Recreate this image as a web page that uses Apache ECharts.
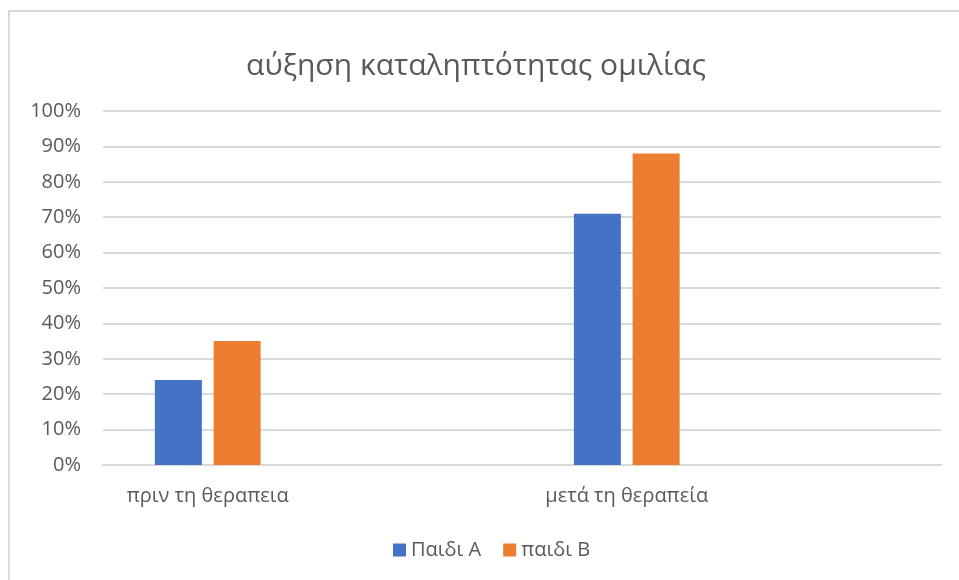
<!DOCTYPE html>
<html>
<head>
<meta charset="utf-8">
<script src="https://cdn.jsdelivr.net/npm/echarts@6/dist/echarts.min.js"></script>
<style>
html,body{margin:0;padding:0;background:#fff;overflow:hidden;}
#frame{position:absolute;left:8px;top:10px;width:1000px;height:620px;border-left:2px solid #d9d9d9;border-top:2px solid #d9d9d9;}
#chart{position:absolute;left:0;top:0;width:959px;height:580px;}
</style>
</head>
<body>
<div id="frame"></div>
<div id="chart"></div>
<script>
var titleText = 'αύξηση καταληπτότητας ομιλίας';
var categories = ['πριν τη θεραπεια', '', 'μετά τη θεραπεία', ''];
var seriesNames = ['Παιδι A', 'παιδι B'];
var childA = [0.24, null, 0.71, null];
var childB = [0.35, null, 0.88, null];
var colors = ['#4472C4', '#ED7D31'];
var FONT = 'Open Sans';

var chart = echarts.init(document.getElementById('chart'), null, {renderer: 'canvas'});
chart.setOption({
  animation: false,
  backgroundColor: 'transparent',
  title: {
    text: titleText,
    left: 471,
    textAlign: 'center',
    top: 46,
    textStyle: {fontFamily: FONT, fontSize: 30, fontWeight: 'normal', color: '#595959'}
  },
  legend: {
    data: seriesNames,
    bottom: 15,
    left: 388,
    itemWidth: 13,
    itemHeight: 13,
    itemGap: 22,
    icon: 'rect',
    textStyle: {fontFamily: FONT, fontSize: 20, color: '#595959'}
  },
  grid: {left: 103, right: 18, top: 111, bottom: 115, containLabel: false},
  xAxis: {
    type: 'category',
    data: categories,
    axisLine: {lineStyle: {color: '#d9d9d9', width: 2}},
    axisTick: {show: false},
    axisLabel: {interval: 0, margin: 21, fontFamily: FONT, fontSize: 20, color: '#595959'}
  },
  yAxis: {
    type: 'value',
    min: 0, max: 1, interval: 0.1,
    axisLine: {show: false},
    axisTick: {show: false},
    splitLine: {lineStyle: {color: '#d9d9d9', width: 2}},
    axisLabel: {
      margin: 22,
      fontFamily: FONT, fontSize: 20, color: '#595959',
      formatter: function (v) { return Math.round(v * 100) + '%'; }
    }
  },
  series: [
    {name: seriesNames[0], type: 'bar', data: childA, barWidth: 47, barGap: '25%', itemStyle: {color: colors[0]}},
    {name: seriesNames[1], type: 'bar', data: childB, barWidth: 47, barGap: '25%', itemStyle: {color: colors[1]}}
  ]
});
</script>
</body>
</html>
